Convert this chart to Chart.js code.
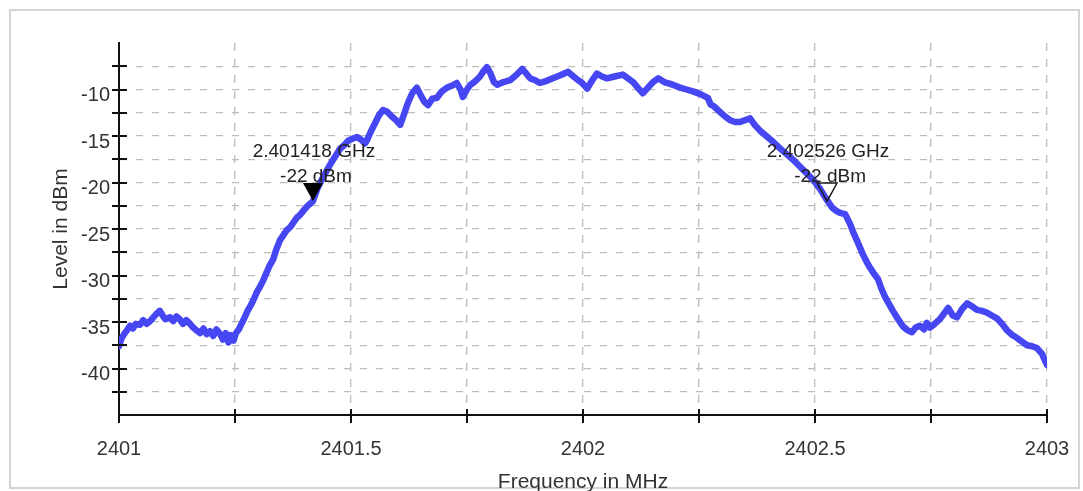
<!DOCTYPE html>
<html>
<head>
<meta charset="utf-8">
<script src="https://cdn.jsdelivr.net/npm/chart.js@4.4.1/dist/chart.umd.min.js"></script>
<style>
  html, body { margin: 0; padding: 0; background: #ffffff; overflow: hidden; }
  #wrap { position: relative; width: 1083px; height: 491px; }
</style>
</head>
<body>
<div id="wrap"><canvas id="c" width="1083" height="491"></canvas></div>
<script>
// ---- data ----
const freqMHz = [
  2401.000, 2401.005, 2401.011, 2401.017, 2401.024, 2401.030, 2401.036, 2401.045, 2401.052, 2401.060,
  2401.067, 2401.074, 2401.081, 2401.088, 2401.094, 2401.100, 2401.110, 2401.117, 2401.124, 2401.131,
  2401.138, 2401.145, 2401.153, 2401.160, 2401.167, 2401.175, 2401.182, 2401.189, 2401.196, 2401.203,
  2401.210, 2401.218, 2401.224, 2401.230, 2401.236, 2401.241, 2401.247, 2401.252, 2401.258, 2401.264,
  2401.270, 2401.277, 2401.284, 2401.290, 2401.297, 2401.304, 2401.310, 2401.317, 2401.324, 2401.332,
  2401.339, 2401.347, 2401.355, 2401.362, 2401.369, 2401.376, 2401.383, 2401.390, 2401.398, 2401.405,
  2401.418, 2401.428, 2401.438, 2401.448, 2401.457, 2401.466, 2401.476, 2401.485, 2401.494, 2401.503,
  2401.513, 2401.522, 2401.530, 2401.534, 2401.542, 2401.552, 2401.560, 2401.569, 2401.578, 2401.588,
  2401.597, 2401.606, 2401.614, 2401.623, 2401.632, 2401.642, 2401.650, 2401.658, 2401.666, 2401.675,
  2401.685, 2401.696, 2401.707, 2401.717, 2401.728, 2401.736, 2401.741, 2401.750, 2401.757, 2401.763,
  2401.770, 2401.778, 2401.786, 2401.793, 2401.800, 2401.808, 2401.815, 2401.829, 2401.843, 2401.855,
  2401.869, 2401.878, 2401.886, 2401.897, 2401.907, 2401.920, 2401.935, 2401.950, 2401.968, 2401.977,
  2401.987, 2401.998, 2402.009, 2402.020, 2402.030, 2402.041, 2402.052, 2402.068, 2402.086, 2402.097,
  2402.108, 2402.118, 2402.129, 2402.140, 2402.151, 2402.162, 2402.175, 2402.188, 2402.199, 2402.209,
  2402.223, 2402.237, 2402.253, 2402.269, 2402.275, 2402.282, 2402.295, 2402.306, 2402.317, 2402.328,
  2402.338, 2402.349, 2402.360, 2402.370, 2402.381, 2402.395, 2402.409, 2402.424, 2402.440, 2402.454,
  2402.468, 2402.482, 2402.496, 2402.511, 2402.526, 2402.537, 2402.547, 2402.556, 2402.565, 2402.575,
  2402.583, 2402.591, 2402.597, 2402.603, 2402.611, 2402.619, 2402.627, 2402.636, 2402.643, 2402.651,
  2402.660, 2402.668, 2402.679, 2402.690, 2402.700, 2402.709, 2402.717, 2402.726, 2402.735, 2402.741,
  2402.748, 2402.758, 2402.769, 2402.778, 2402.787, 2402.797, 2402.806, 2402.817, 2402.828, 2402.838,
  2402.849, 2402.860, 2402.871, 2402.881, 2402.892, 2402.903, 2402.914, 2402.925, 2402.935, 2402.946,
  2402.957, 2402.968, 2402.978, 2402.989, 2403.000
];
const levelDbm = [
  -37.6, -36.8, -36.3, -35.9, -35.4, -35.7, -35.2, -35.3, -34.8, -35.2,
  -34.9, -34.5, -34.1, -33.8, -34.3, -34.7, -34.5, -34.9, -34.4, -34.7,
  -35.2, -34.8, -35.2, -35.6, -35.9, -36.2, -35.7, -36.3, -36.0, -36.5,
  -35.8, -36.3, -36.9, -36.2, -37.2, -36.4, -37.0, -36.2, -35.8, -35.2,
  -34.6, -33.8, -33.2, -32.6, -31.8, -31.2, -30.6, -29.8, -29.0, -28.3,
  -27.2, -26.2, -25.6, -25.1, -24.8, -24.3, -23.8, -23.5, -23.0, -22.6,
  -22.0, -20.6, -19.6, -18.7, -17.9, -17.2, -16.4, -16.0, -15.5, -15.3,
  -15.1, -15.4, -15.8, -15.5, -14.6, -13.6, -12.8, -12.2, -12.4, -12.9,
  -13.3, -13.8, -12.7, -11.4, -10.4, -9.8, -10.6, -11.3, -11.7, -11.0,
  -10.9, -10.2, -9.8, -9.6, -9.3, -10.0, -10.8, -10.0, -9.5, -9.3,
  -9.0, -8.6, -8.0, -7.6, -8.2, -9.2, -9.5, -9.2, -9.0, -8.5,
  -7.8, -8.3, -8.8, -9.0, -9.3, -9.1, -8.8, -8.5, -8.1, -8.5,
  -8.9, -9.3, -9.9, -9.0, -8.3, -8.6, -8.8, -8.6, -8.4, -8.8,
  -9.2, -9.8, -10.4, -9.8, -9.2, -8.8, -9.2, -9.4, -9.6, -9.8,
  -10.0, -10.2, -10.5, -10.9, -11.6, -11.8, -12.4, -12.9, -13.3, -13.5,
  -13.5, -13.3, -13.1, -13.8, -14.4, -15.0, -15.6, -16.3, -17.0, -17.6,
  -18.3, -19.0, -19.7, -20.7, -21.9, -22.7, -23.1, -23.3, -23.4, -24.4,
  -25.4, -26.3, -27.0, -27.7, -28.5, -29.2, -29.8, -30.4, -31.4, -32.3,
  -33.1, -33.8, -34.7, -35.5, -35.9, -36.1, -35.6, -35.4, -35.8, -35.1,
  -35.6, -35.2, -34.7, -34.1, -33.5, -34.3, -34.5, -33.6, -33.0, -33.3,
  -33.7, -33.8, -34.0, -34.3, -34.6, -35.2, -35.9, -36.4, -36.7, -37.1,
  -37.5, -37.6, -37.8, -38.4, -39.6
];
// markers
const markerFreqMHz = [2401.418, 2402.526];
const markerLevelDbm = [-22, -22];
const markerLine1 = ["2.401418 GHz", "2.402526 GHz"];
const markerLine2 = ["-22 dBm", "-22 dBm"];
const markerFilled = [true, false];
// axes
const xMin = 2401, xMax = 2403, xStep = 0.25;
const yMin = -45, yMax = -5, yStep = 2.5;
const xTitle = "Frequency in MHz";
const yTitle = "Level in dBm";

const FONT = "'Liberation Sans', Arial, sans-serif";
const points = freqMHz.map((f, i) => ({ x: f, y: levelDbm[i] }));

const framePlugin = {
  id: 'frame',
  beforeDraw(chart) {
    const ctx = chart.ctx;
    ctx.save();
    ctx.fillStyle = '#ffffff';
    ctx.fillRect(0, 0, chart.width, chart.height);
    ctx.strokeStyle = '#d4d4d4';
    ctx.lineWidth = 2;
    ctx.strokeRect(10, 10, 1069, 478);
    ctx.restore();
  }
};

const tickPlugin = {
  id: 'crossTicks',
  afterDraw(chart) {
    const ctx = chart.ctx;
    const xs = chart.scales.x, ys = chart.scales.y;
    const ax = xs.getPixelForValue(xMin);
    const ay = ys.getPixelForValue(yMin);
    ctx.save();
    ctx.strokeStyle = '#111111';
    ctx.lineWidth = 2;
    ctx.beginPath();
    for (let v = xMin; v <= xMax + 1e-9; v += xStep) {
      const px = Math.round(xs.getPixelForValue(v));
      ctx.moveTo(px, ay - 6);
      ctx.lineTo(px, ay + 8);
    }
    for (let v = yMax - yStep; v > yMin + 1e-9; v -= yStep) {
      const py = Math.round(ys.getPixelForValue(v));
      ctx.moveTo(ax - 7, py);
      ctx.lineTo(ax + 8, py);
    }
    ctx.stroke();
    ctx.restore();
  }
};

const markerPlugin = {
  id: 'markers',
  afterDatasetsDraw(chart) {
    const ctx = chart.ctx;
    const xs = chart.scales.x, ys = chart.scales.y;
    ctx.save();
    for (let i = 0; i < markerFreqMHz.length; i++) {
      const px = xs.getPixelForValue(markerFreqMHz[i]);
      const py = ys.getPixelForValue(markerLevelDbm[i]);
      ctx.beginPath();
      ctx.moveTo(px, py);
      ctx.lineTo(px - 10, py - 18);
      ctx.lineTo(px + 10, py - 18);
      ctx.closePath();
      if (markerFilled[i]) {
        ctx.fillStyle = '#000000';
        ctx.fill();
      } else {
        ctx.strokeStyle = '#1a1a1a';
        ctx.lineWidth = 1.5;
        ctx.stroke();
      }
      ctx.fillStyle = '#222222';
      ctx.font = '19px ' + FONT;
      ctx.textAlign = 'center';
      ctx.textBaseline = 'middle';
      ctx.fillText(markerLine1[i], px + 1, py - 49);
      ctx.fillText(markerLine2[i], px + 3, py - 24);
    }
    ctx.restore();
  }
};

new Chart(document.getElementById('c'), {
  type: 'line',
  data: {
    datasets: [{
      data: points,
      borderColor: '#4646f2',
      borderWidth: 6.5,
      pointRadius: 0,
      tension: 0,
      fill: false,
      borderJoinStyle: 'round',
      borderCapStyle: 'round'
    }]
  },
  options: {
    responsive: false,
    animation: false,
    events: [],
    layout: { padding: { left: 0, top: 43, right: 36, bottom: 0 } },
    plugins: { legend: { display: false }, tooltip: { enabled: false } },
    scales: {
      x: {
        type: 'linear',
        min: xMin, max: xMax,
        afterFit(scale) { scale.height = 76; scale.paddingLeft = 0; scale.paddingRight = 0; },
        afterBuildTicks(scale) {
          const t = [];
          for (let v = xMin; v <= xMax + 1e-9; v += xStep) t.push({ value: Math.round(v * 100) / 100 });
          scale.ticks = t;
        },
        ticks: {
          autoSkip: false,
          maxRotation: 0,
          padding: 22,
          color: '#333333',
          font: { family: FONT, size: 20 },
          callback(v) {
            const r = Math.round(v * 100) / 100;
            return Math.abs(r * 2 - Math.round(r * 2)) < 1e-6 ? String(r) : '';
          }
        },
        grid: {
          drawTicks: false,
          color: '#bdbdbd',
          lineWidth: 1.3
        },
        border: { display: true, color: '#111111', width: 2, dash: [8, 8] },
        title: {
          display: true, text: xTitle, color: '#333333',
          font: { family: FONT, size: 21, lineHeight: 1 },
          padding: { top: 0, bottom: -2 }
        }
      },
      y: {
        type: 'linear',
        min: yMin, max: yMax,
        afterFit(scale) { scale.width = 119; scale.paddingTop = 0; scale.paddingBottom = 0; },
        afterBuildTicks(scale) {
          const t = [];
          for (let v = yMin; v <= yMax + 1e-9; v += yStep) t.push({ value: v });
          scale.ticks = t;
        },
        ticks: {
          autoSkip: false,
          padding: 9,
          labelOffset: 6,
          color: '#333333',
          font: { family: FONT, size: 20 },
          callback(v) {
            return (v % 5 === 0 && v > yMin && v < yMax) ? String(v) : '';
          }
        },
        grid: {
          drawTicks: false,
          color(ctx) {
            const v = ctx.tick ? ctx.tick.value : null;
            return (v === yMin || v === yMax) ? 'rgba(0,0,0,0)' : '#bdbdbd';
          },
          lineWidth: 1.3
        },
        border: { display: true, color: '#111111', width: 2, dash: [7, 9] },
        title: {
          display: true, text: yTitle, color: '#333333',
          font: { family: FONT, size: 21, lineHeight: 1 },
          padding: { top: 51, bottom: 0 }
        }
      }
    }
  },
  plugins: [framePlugin, tickPlugin, markerPlugin]
});
</script>
</body>
</html>
